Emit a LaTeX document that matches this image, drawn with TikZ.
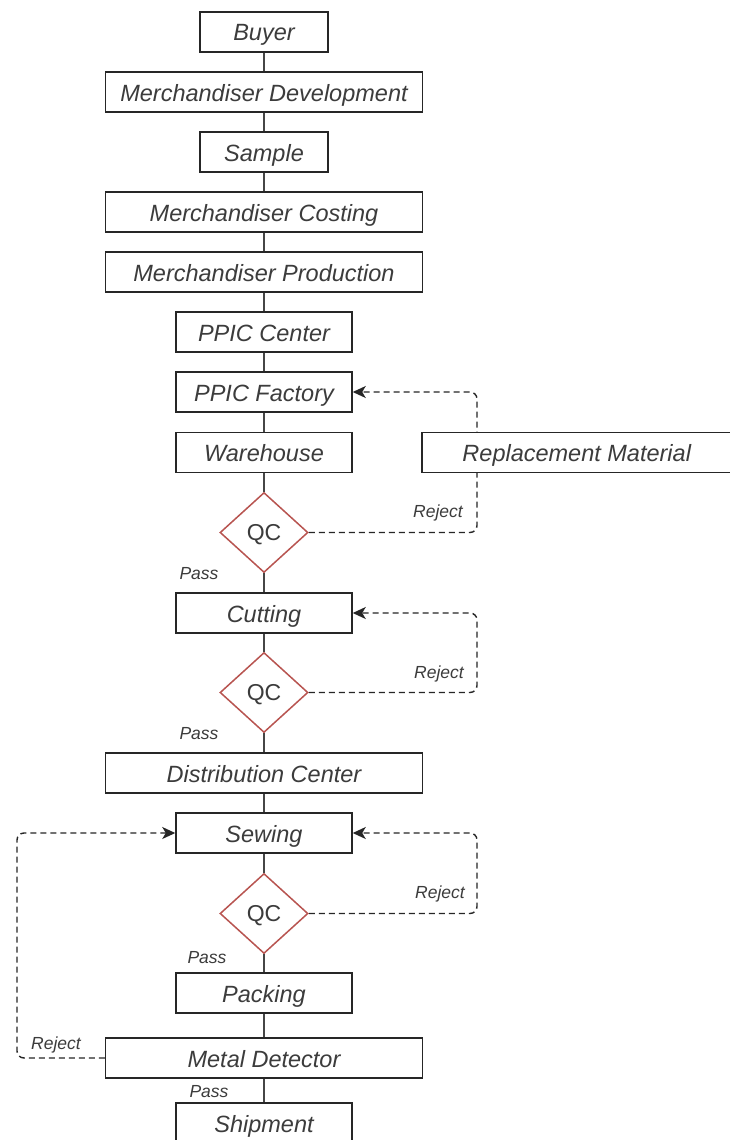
\documentclass[tikz,border=0pt]{standalone}
\usepackage{fontspec}
\setmainfont{Liberation Sans}
\usetikzlibrary{shapes.geometric,arrows.meta}
\definecolor{txt}{RGB}{60,60,60}
\definecolor{qcred}{RGB}{184,84,80}
\definecolor{lnk}{RGB}{70,70,70}
\begin{document}
\begin{tikzpicture}[x=1pt,y=-1pt,
  box/.style={draw=black!85,line width=1.5pt,fill=white,inner sep=0pt,
    minimum height=40pt,text height=18pt,text depth=0pt,text=txt,
    font=\fontsize{23.5}{27}\selectfont\itshape},
  wbox/.style={box,minimum width=317pt},
  mbox/.style={box,minimum width=176pt},
  sbox/.style={box,minimum width=128pt},
  qc/.style={diamond,draw=qcred,line width=1.5pt,fill=white,inner sep=0pt,
    minimum width=88pt,minimum height=80pt,text height=16pt,text depth=0pt,text=txt,
    font=\fontsize{23}{27}\selectfont},
  lbl/.style={inner sep=0pt,text=txt,font=\fontsize{17.5}{20}\selectfont\itshape},
  link/.style={draw=lnk,line width=1.6pt},
  rej/.style={draw=black!85,line width=1.4pt,dash pattern=on 6pt off 4pt,rounded corners=7pt,
    -{Stealth[length=13pt,width=12pt,inset=3.5pt]}}
]
\useasboundingbox (0,0) rectangle (730,1140);
\clip (0,0) rectangle (730,1140);
\fill[white] (0,0) rectangle (730,1140);

\node[sbox] (buyer) at (264,32) {Buyer};
\node[wbox] (mdev) at (264,92) {Merchandiser Development};
\node[sbox] (sample) at (264,152) {Sample};
\node[wbox] (mcost) at (264,212) {Merchandiser Costing};
\node[wbox] (mprod) at (264,272) {Merchandiser Production};
\node[mbox] (pc) at (264,332) {PPIC Center};
\node[mbox] (pf) at (264,392) {PPIC Factory};
\node[mbox] (wh) at (264,452.5) {Warehouse};
\node[qc] (qc1) at (264,532.5) {QC};
\node[mbox] (cut) at (264,613) {Cutting};
\node[qc] (qc2) at (264,692.5) {QC};
\node[wbox] (dc) at (264,773) {Distribution Center};
\node[mbox] (sew) at (264,833) {Sewing};
\node[qc] (qc3) at (264,913.5) {QC};
\node[mbox] (pack) at (264,993) {Packing};
\node[wbox] (metal) at (264,1058) {Metal Detector};
\node[mbox] (ship) at (264,1123) {Shipment};

\coordinate (rx) at (477,0);
\coordinate (lx) at (17,0);

\draw[link] (buyer) -- (mdev);
\draw[link] (mdev) -- (sample);
\draw[link] (sample) -- (mcost);
\draw[link] (mcost) -- (mprod);
\draw[link] (mprod) -- (pc);
\draw[link] (pc) -- (pf);
\draw[link] (pf) -- (wh);
\draw[link] (wh) -- (qc1);
\draw[link] (qc1) -- (cut);
\draw[link] (cut) -- (qc2);
\draw[link] (qc2) -- (dc);
\draw[link] (dc) -- (sew);
\draw[link] (sew) -- (qc3);
\draw[link] (qc3) -- (pack);
\draw[link] (pack) -- (metal);
\draw[link] (metal) -- (ship);

\draw[rej] (qc1.east) -- (qc1.east -| rx) |- (pf.east);
\draw[rej] (qc2.east) -- (qc2.east -| rx) |- (cut.east);
\draw[rej] (qc3.east) -- (qc3.east -| rx) |- (sew.east);
\draw[rej] (metal.west) -- (metal.west -| lx) |- (sew.west);

\node[box,minimum width=310pt,anchor=west] (rm) at (421,452.5) {Replacement Material};

\node[lbl] (r1) at (438,513) {Reject};
\node[lbl] (r2) at (439,674) {Reject};
\node[lbl] (r3) at (440,894) {Reject};
\node[lbl] (r4) at (56,1045) {Reject};
\node[lbl] (p1) at (199,574) {Pass};
\node[lbl] (p2) at (199,734) {Pass};
\node[lbl] (p3) at (207,958) {Pass};
\node[lbl] (p4) at (209,1092) {Pass};
\end{tikzpicture}
\end{document}
